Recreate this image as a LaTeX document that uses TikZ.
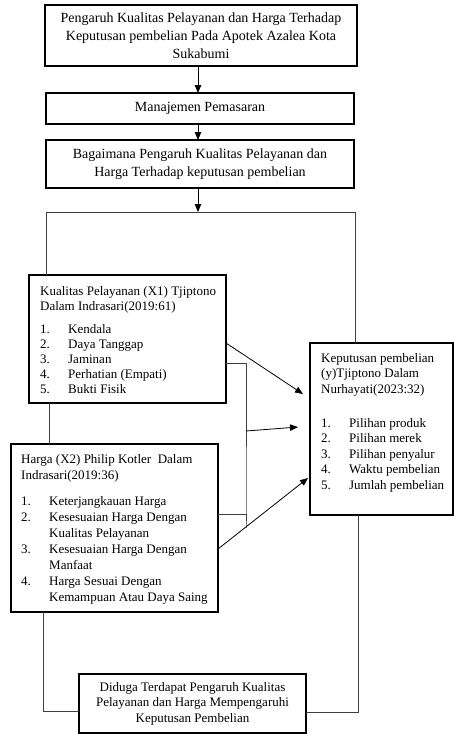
\documentclass[tikz,border=0pt]{standalone}
\usepackage{fontspec}
\setmainfont{Liberation Serif}
\usetikzlibrary{arrows.meta,calc}
\begin{document}
\begin{tikzpicture}[x=1pt,y=-1pt,
  box/.style={draw=black,line width=1.4pt,inner sep=0pt,outer sep=0pt},
  bigtxt/.style={inner sep=0pt,align=center,font=\fontsize{14}{18}\selectfont},
  midtxt/.style={inner sep=0pt,align=center,font=\fontsize{13}{15.5}\selectfont},
  listtxt/.style={inner sep=0pt,anchor=base west},
  conn/.style={draw=black!75,line width=0.8pt},
  arr/.style={draw=black,line width=0.8pt,-{Triangle[length=8pt,width=6.5pt]}}]
\useasboundingbox (0,0) rectangle (454,734);
\newcommand{\itm}[1]{\makebox[28pt][l]{#1}}
% boxes
\node[box,minimum width=312pt,minimum height=61pt] (b1) at (201,35.5) {};
\node[bigtxt] (t1) at (b1.center) {Pengaruh Kualitas Pelayanan dan Harga Terhadap\\Keputusan pembelian Pada Apotek Azalea Kota\\Sukabumi};
\node[box,minimum width=308pt,minimum height=31pt] (b2) at (200,108.5) {};
\node[bigtxt] (t2) at (b2.center) {Manajemen Pemasaran};
\node[box,minimum width=308pt,minimum height=48pt] (b3) at (200,164) {};
\node[bigtxt] (t3) at (b3.center) {Bagaimana Pengaruh Kualitas Pelayanan dan\\Harga Terhadap keputusan pembelian};
\node[box,minimum width=197pt,minimum height=128pt] (x1) at (127.5,339) {};
\node[listtxt] (tx1) at (40,295) {\fontsize{13}{15}\selectfont\begin{tabular}[t]{@{}l@{}}
Kualitas Pelayanan (X1) Tjiptono\\
Dalam Indrasari(2019:61)\\[8pt]
\itm{1.}Kendala\\
\itm{2.}Daya Tanggap\\
\itm{3.}Jaminan\\
\itm{4.}Perhatian (Empati)\\
\itm{5.}Bukti Fisik
\end{tabular}};
\node[box,minimum width=207pt,minimum height=168pt] (x2) at (114.5,528) {};
\node[listtxt] (tx2) at (21,463) {\fontsize{13}{16}\selectfont\begin{tabular}[t]{@{}l@{}}
Harga (X2) Philip Kotler\ \ Dalam\\
Indrasari(2019:36)\\[10pt]
\itm{1.}Keterjangkauan Harga\\
\itm{2.}Kesesuaian Harga Dengan\\
\itm{}Kualitas Pelayanan\\
\itm{3.}Kesesuaian Harga Dengan\\
\itm{}Manfaat\\
\itm{4.}Harga Sesuai Dengan\\
\itm{}Kemampuan Atau Daya Saing
\end{tabular}};
\node[box,minimum width=143pt,minimum height=172pt] (y) at (381.5,429) {};
\node[listtxt] (ty) at (321,362) {\fontsize{13}{15.5}\selectfont\begin{tabular}[t]{@{}l@{}}
Keputusan pembelian\\
(y)Tjiptono Dalam\\
Nurhayati(2023:32)\\[18.5pt]
\itm{1.}Pilihan produk\\
\itm{2.}Pilihan merek\\
\itm{3.}Pilihan penyalur\\
\itm{4.}Waktu pembelian\\
\itm{5.}Jumlah pembelian
\end{tabular}};
\node[box,minimum width=227pt,minimum height=59pt] (bb) at (192.5,703.5) {};
\node[midtxt] (tbb) at (bb.center) {Diduga Terdapat Pengaruh Kualitas\\Pelayanan dan Harga Mempengaruhi\\Keputusan Pembelian};
% coordinates
\coordinate (ftop) at (198,212);
\coordinate (fl) at (46,212);
\coordinate (fr) at (355,212);
\coordinate (c49) at (49,0);
\coordinate (c43) at (43,0);
\coordinate (c358) at (358,0);
\coordinate (brk) at (246,0);
% connectors
\draw[arr] (b1.south -| ftop) -- (b2.north -| ftop);
\draw[arr] (b2.south -| ftop) -- (b3.north -| ftop);
\draw[arr] (b3.south -| ftop) -- (ftop);
\draw[conn] (x1.north -| fl) -- (fl) -- (fr) -- (y.north -| fr);
\draw[conn] (x1.south -| c49) -- (x2.north -| c49);
\draw[conn] ([yshift=-24pt]x1.east) -| (brk |- x2.east) |- ([yshift=14pt]x2.east);
\draw[arr] ([yshift=-4pt]x1.east) -- ([yshift=35pt,xshift=-7pt]y.west);
\draw[arr] (brk |- 0,431) -- ([yshift=2pt,xshift=-12pt]y.west);
\draw[arr] ([yshift=-21pt]x2.east) -- ([yshift=-49pt,xshift=-2pt]y.west);
\draw[conn] (x2.south -| c43) |- ([yshift=-7.5pt]bb.west);
\draw[conn] (y.south -| c358) |- ([yshift=-8.5pt]bb.east);
\end{tikzpicture}
\end{document}
